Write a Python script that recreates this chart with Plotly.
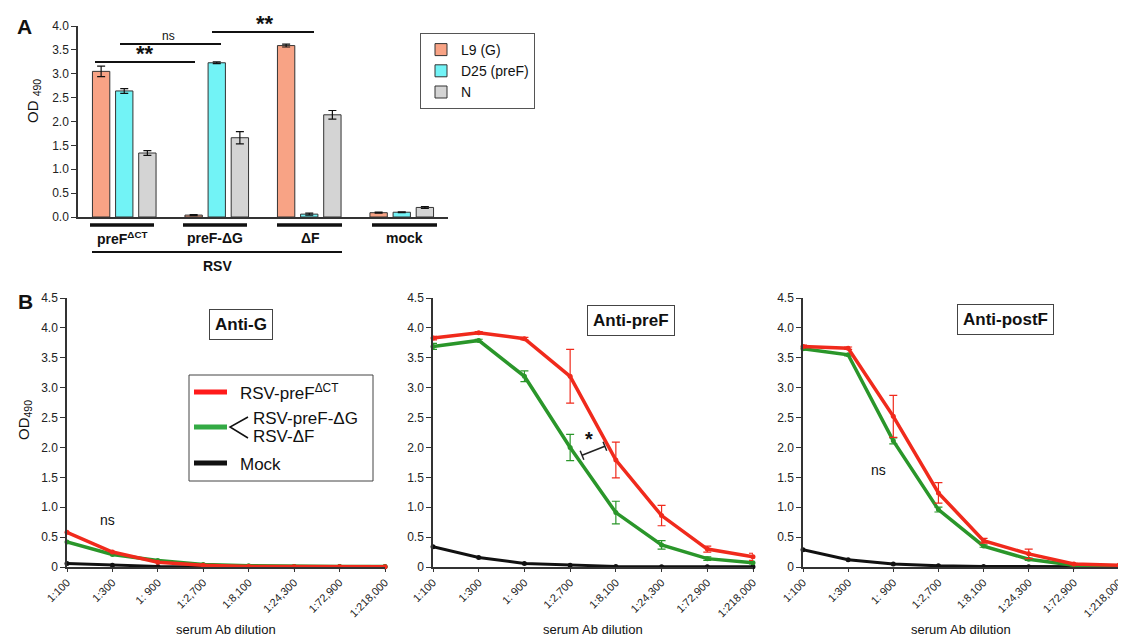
import plotly.graph_objects as go

# The page body has an 8px default margin, so the figure is sized to fit the
# 1126x640 window and all target pixel positions are offset by 8px.
OFF = 8
W, H = 1126 - OFF, 640 - OFF
FONT = "Liberation Sans, Arial, sans-serif"


def px(x):
    return (x - OFF) / W


def py(y):
    return 1 - (y - OFF) / H


# ---------------- Panel A data ----------------
groups = ["preF<sup>ΔCT</sup>", "preF-ΔG", "ΔF", "mock"]
series_names = ["L9 (G)", "D25 (preF)", "N"]
l9 = [3.05, 0.04, 3.59, 0.09]
l9_err = [0.11, 0.01, 0.03, 0.01]
d25 = [2.64, 3.23, 0.06, 0.10]
d25_err = [0.05, 0.02, 0.02, 0.01]
n_vals = [1.34, 1.66, 2.14, 0.20]
n_err = [0.05, 0.13, 0.09, 0.02]
bar_colors = ["#F8A385", "#72F3F6", "#D4D4D4"]

# ---------------- Panel B data ----------------
dilutions = ["1:100", "1:300", "1: 900", "1:2,700", "1:8,100", "1:24,300", "1:72,900", "1:218,000"]
panel_titles = ["Anti-G", "Anti-preF", "Anti-postF"]

g_red = [0.58, 0.25, 0.08, 0.03, 0.01, 0.005, 0.005, 0.005]
g_green = [0.42, 0.21, 0.11, 0.04, 0.02, 0.01, 0.01, 0.01]
g_black = [0.06, 0.03, 0.01, 0.005, 0.005, 0.005, 0.005, 0.005]

pre_red = [3.83, 3.92, 3.82, 3.19, 1.79, 0.86, 0.30, 0.17]
pre_red_err = [0.03, 0.02, 0.02, 0.45, 0.30, 0.17, 0.05, 0.06]
pre_green = [3.69, 3.79, 3.19, 2.00, 0.91, 0.37, 0.14, 0.07]
pre_green_err = [0.05, 0.02, 0.09, 0.22, 0.19, 0.07, 0.03, 0.02]
pre_black = [0.34, 0.16, 0.06, 0.03, 0.01, 0.005, 0.005, 0.005]

post_red = [3.69, 3.66, 2.52, 1.24, 0.44, 0.22, 0.05, 0.03]
post_red_err = [0.02, 0.02, 0.35, 0.17, 0.04, 0.08, 0.01, 0.01]
post_green = [3.65, 3.55, 2.11, 0.96, 0.35, 0.13, 0.03, 0.02]
post_green_err = [0.02, 0.02, 0.05, 0.04, 0.02, 0.02, 0.01, 0.01]
post_black = [0.29, 0.12, 0.05, 0.02, 0.01, 0.005, 0.005, 0.005]

RED = "#F02A1C"
GREEN = "#2A962A"
BLACK = "#111111"
AXC = "#333333"

fig = go.Figure()

# ---------- Panel A bars ----------
xa = list(range(len(groups)))
for name, vals, errs, col in zip(series_names, [l9, d25, n_vals], [l9_err, d25_err, n_err], bar_colors):
    fig.add_trace(go.Bar(
        x=xa, y=vals, name=name, marker=dict(color=col, line=dict(color="#333", width=1)),
        error_y=dict(type="data", array=errs, color="#111", thickness=1.2, width=4),
        xaxis="x", yaxis="y", showlegend=True,
    ))

# ---------- Panel B lines ----------
xb = list(range(len(dilutions)))
panels = [
    ("x2", "y2", g_red, None, g_green, None, g_black),
    ("x3", "y3", pre_red, pre_red_err, pre_green, pre_green_err, pre_black),
    ("x4", "y4", post_red, post_red_err, post_green, post_green_err, post_black),
]
for xr, yr, red, red_e, green, green_e, black in panels:
    fig.add_trace(go.Scatter(x=xb, y=black, mode="lines+markers", xaxis=xr, yaxis=yr,
                             line=dict(color=BLACK, width=3), marker=dict(size=5, color=BLACK),
                             showlegend=False, cliponaxis=False))
    fig.add_trace(go.Scatter(x=xb, y=green, mode="lines+markers", xaxis=xr, yaxis=yr,
                             line=dict(color=GREEN, width=3.5), marker=dict(size=5, color=GREEN),
                             error_y=(dict(type="data", array=green_e, color=GREEN, thickness=1.2, width=4)
                                      if green_e else None),
                             showlegend=False, cliponaxis=False))
    fig.add_trace(go.Scatter(x=xb, y=red, mode="lines+markers", xaxis=xr, yaxis=yr,
                             line=dict(color=RED, width=3.5), marker=dict(size=5, color=RED),
                             error_y=(dict(type="data", array=red_e, color=RED, thickness=1.2, width=4)
                                      if red_e else None),
                             showlegend=False, cliponaxis=False))

tickfont = dict(family=FONT, size=12, color="#222")

layout = dict(
    width=W, height=H, margin=dict(l=0, r=0, t=0, b=0, autoexpand=False),
    paper_bgcolor="white", plot_bgcolor="white",
    font=dict(family=FONT, color="#111"),
    barmode="group", bargap=0.25, bargroupgap=0.25,
    showlegend=True,
    legend=dict(x=px(420), y=py(33), xanchor="left", yanchor="top",
                bordercolor="#555", borderwidth=1, bgcolor="white",
                font=dict(family=FONT, size=14, color="#111"), tracegroupgap=0),
    xaxis=dict(domain=[px(78), px(448)], range=[-0.5, 3.5], showticklabels=False, ticks="",
               tickvals=[], automargin=False,
               showline=True, linecolor=AXC, linewidth=1.5, showgrid=False, zeroline=False, fixedrange=True),
    yaxis=dict(domain=[py(217), py(26)], range=[0, 4.0], tickvals=[0, 0.5, 1, 1.5, 2, 2.5, 3, 3.5, 4],
               tickformat=".1f", ticks="outside", ticklen=5, tickcolor=AXC, tickfont=tickfont,
               automargin=False,
               showline=True, linecolor=AXC, linewidth=1.5, showgrid=False, zeroline=False),
)

bdomains = [(67, 385), (433, 753), (803, 1119)]
for i, (x0, x1) in enumerate(bdomains):
    xn = "xaxis%d" % (i + 2)
    yn = "yaxis%d" % (i + 2)
    layout[xn] = dict(domain=[px(x0), px(x1)], range=[0, 7], anchor="y%d" % (i + 2),
                      tickvals=xb, ticktext=dilutions, tickangle=-45,
                      tickfont=dict(family=FONT, size=11, color="#222"),
                      ticks="outside", ticklen=3, tickcolor=AXC, automargin=False,
                      showline=True, linecolor=AXC, linewidth=1.5, showgrid=False, zeroline=False)
    layout[yn] = dict(domain=[py(567), py(298)], range=[0, 4.5], anchor="x%d" % (i + 2),
                      tickvals=[0, 0.5, 1, 1.5, 2, 2.5, 3, 3.5, 4, 4.5],
                      ticktext=["0", "0.5", "1.0", "1.5", "2.0", "2.5", "3.0", "3.5", "4.0", "4.5"],
                      ticks="outside", ticklen=5, tickcolor=AXC, tickfont=tickfont, automargin=False,
                      showline=True, linecolor=AXC, linewidth=1.5, showgrid=False, zeroline=False)

fig.update_layout(**layout)

ann = []
shapes = []


def txt(x, y, text, size=14, bold=False, xanchor="center", yanchor="middle", angle=0, color="#111", **kw):
    t = "<b>%s</b>" % text if bold else text
    d = dict(x=px(x), y=py(y), xref="paper", yref="paper", text=t, showarrow=False,
             xanchor=xanchor, yanchor=yanchor, textangle=angle,
             font=dict(family=FONT, size=size, color=color))
    d.update(kw)
    ann.append(d)


def pline(x0, y0, x1, y1, width=1.5, color="#111"):
    shapes.append(dict(type="line", xref="paper", yref="paper", x0=px(x0), y0=py(y0), x1=px(x1), y1=py(y1),
                       line=dict(color=color, width=width)))


# Panel labels
txt(24, 26, "A", size=21, bold=True)
txt(25, 301, "B", size=21, bold=True)

# Y titles
txt(33, 101, "OD <sub>490</sub>", size=15, angle=-90)
txt(24, 420, "OD<sub>490</sub>", size=15, angle=-90)

# Panel A significance
pline(95, 62, 195, 62, width=2.2)
txt(145, 53, "**", size=22, bold=True)
pline(120, 44, 221, 44, width=2.2)
txt(168, 36, "ns", size=12)
pline(212, 32, 314, 32, width=2.2)
txt(265, 23, "**", size=22, bold=True)

# Panel A group underlines and labels
group_spans = [(90, 154), (183, 247), (277, 342), (372, 437)]
group_centers = [122, 215, 310, 404]
for (a, b), c, g in zip(group_spans, group_centers, groups):
    pline(a, 225, b, 225, width=3.5)
    txt(c, 238, g, size=14, bold=True)
pline(92, 252, 342, 252, width=1.8)
txt(217, 266, "RSV", size=14, bold=True)

# Panel B titles (boxed)
txt(241, 324, "Anti-G", size=17, bold=True, bordercolor="#444", borderwidth=1, borderpad=5)
txt(631, 320, "Anti-preF", size=17, bold=True, bordercolor="#444", borderwidth=1, borderpad=5)
txt(1005, 319, "Anti-postF", size=17, bold=True, bordercolor="#444", borderwidth=1, borderpad=5)

# x titles
for (x0, x1) in bdomains:
    txt((x0 + x1) / 2, 629, "serum Ab dilution", size=13)

# ns labels
txt(107, 520, "ns", size=14)
txt(878, 470, "ns", size=14)

# star bracket in Anti-preF (caps perpendicular in pixel space)
sx0, sy0, sx1, sy1 = 3.26, 1.87, 3.76, 2.02
shapes.append(dict(type="line", xref="x3", yref="y3", x0=sx0, y0=sy0, x1=sx1, y1=sy1,
                   line=dict(color="#222", width=1.5)))
for (cx, cy) in [(sx0, sy0), (sx1, sy1)]:
    shapes.append(dict(type="line", xref="x3", yref="y3", x0=cx + 0.04, y0=cy - 0.075,
                       x1=cx - 0.04, y1=cy + 0.075, line=dict(color="#222", width=1.5)))
ann.append(dict(x=3.42, y=2.14, xref="x3", yref="y3", text="<b>*</b>", showarrow=False,
                font=dict(family=FONT, size=20, color="#111")))

# Panel B legend (drawn)
shapes.append(dict(type="rect", xref="paper", yref="paper", x0=px(189), y0=py(481), x1=px(373), y1=py(375),
                   line=dict(color="#444", width=1), fillcolor="white"))
pline(194, 392, 227, 392, width=5, color="#FF1A1A")
txt(238, 392, "RSV-preF<sup>ΔCT</sup>", size=17, xanchor="left")
pline(194, 427, 227, 427, width=5, color="#33AA44")
shapes.append(dict(type="path", xref="paper", yref="paper",
                   path="M %f %f L %f %f L %f %f" % (px(248), py(417), px(230), py(427), px(248), py(438)),
                   line=dict(color="#111", width=1.5)))
txt(251, 418, "RSV-preF-ΔG", size=17, xanchor="left")
txt(251, 437, "RSV-ΔF", size=17, xanchor="left")
pline(194, 463, 227, 463, width=5, color="#111")
txt(238, 464, "Mock", size=17, xanchor="left")

fig.update_layout(annotations=ann, shapes=shapes)
fig.write_html("out.html")
